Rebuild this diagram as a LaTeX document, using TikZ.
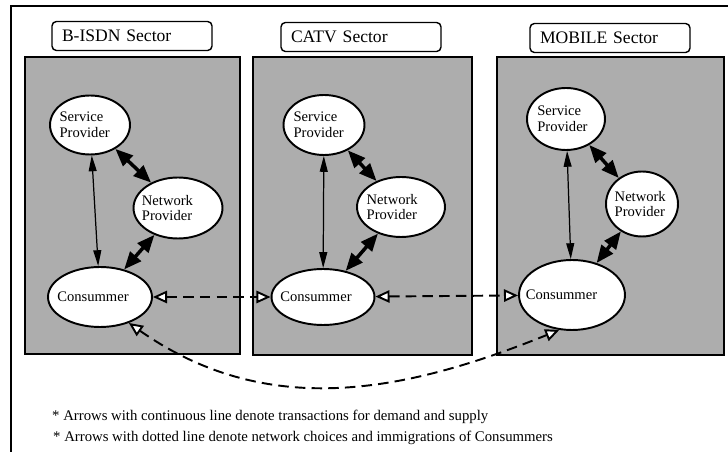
\documentclass[tikz,border=0pt]{standalone}
\usepackage{fontspec}
\setmainfont{Liberation Serif}
\usetikzlibrary{arrows.meta, shapes.geometric}
\definecolor{dotgrey}{gray}{0.68}

\begin{document}
\begin{tikzpicture}[
    x=0.02cm, y=-0.02cm,
    sector/.style={draw, fill=dotgrey, line width=1.1pt},
    tag/.style={draw, rounded corners=2.5pt, fill=white, line width=0.8pt, minimum height=0.58cm,
        text width=2.8cm, inner xsep=0.2cm, align=left, font=\fontsize{10}{12}\selectfont},
    party/.style={draw, ellipse, fill=white, line width=1.1pt, inner sep=0pt},
    txt/.style={font=\fontsize{8.3}{9}\selectfont, align=left},
    deal/.style={{Triangle[length=10pt,width=8pt]}-{Triangle[length=10pt,width=8pt]}, line width=2pt},
    link/.style={{Triangle[length=9pt,width=4.5pt]}-{Triangle[length=9pt,width=4.5pt]}, line width=0.7pt},
    move/.style={{Triangle[fill=white,length=8pt,width=7pt]}-{Triangle[fill=white,length=8pt,width=7pt]},
        dash pattern=on 6pt off 3.5pt, line width=1.1pt},
]
\useasboundingbox (0,0) rectangle (728,452);

% frame and the three sectors
\draw[line width=1pt] (11,452) -- (11,6) -- (728,6);
\draw[sector] (25,57) rectangle (240,354);
\draw[sector] (253,57) rectangle (472,355);
\draw[sector] (497,57) rectangle (724,355);

\node[tag] (tb) at (132,36) {B-ISDN Sector};
\node[tag] (tc) at (361,37) {CATV Sector};
\node[tag] (tm) at (610,38) {MOBILE Sector};

% B-ISDN
\node[party, minimum width=1.6cm, minimum height=1.18cm, label={[txt, xshift=-3pt]center:Service\\Provider}] (sp1) at (90,125) {};
\node[party, minimum width=1.78cm, minimum height=1.22cm, label={[txt, xshift=-6pt]center:Network\\Provider}] (np1) at (178,208) {};
\node[party, minimum width=2.08cm, minimum height=1.2cm, label={[txt, xshift=-4pt]center:Consummer}] (co1) at (100,297) {};

% CATV
\node[party, minimum width=1.62cm, minimum height=1.2cm, label={[txt, xshift=-3pt]center:Service\\Provider}] (sp2) at (324,125) {};
\node[party, minimum width=1.76cm, minimum height=1.2cm, label={[txt, xshift=-5pt]center:Network\\Provider}] (np2) at (401,207) {};
\node[party, minimum width=2.06cm, minimum height=1.12cm, label={[txt, xshift=-4pt]center:Consummer}] (co2) at (323,297) {};

% MOBILE
\node[party, minimum width=1.56cm, minimum height=1.24cm, label={[txt, xshift=-2pt]center:Service\\Provider}] (sp3) at (566,119) {};
\node[party, minimum width=1.44cm, minimum height=1.3cm, label={[txt, xshift=-1pt]center:Network\\Provider}] (np3) at (642,204) {};
\node[party, minimum width=2.12cm, minimum height=1.4cm, label={[txt, xshift=-6pt]center:Consummer}] (co3) at (572,295) {};

% demand and supply
\draw[link] (sp1) -- (co1);
\draw[deal] (sp1) -- (np1);
\draw[deal] (np1) -- (co1);
\draw[link] (sp2) -- (co2);
\draw[deal] (sp2) -- (np2);
\draw[deal] (np2) -- (co2);
\draw[link] (sp3) -- (co3);
\draw[deal] (sp3) -- (np3);
\draw[deal] (np3) -- (co3);

% network choices
\draw[move] (co1) -- (co2);
\draw[move] (co2) -- (co3);
\draw[move] (co1.-42) to[out=-35, in=-158] (co3.-110);

\node[anchor=west, font=\fontsize{8.4}{10}\selectfont] (n1) at (46,417) {* Arrows with continuous line denote transactions for demand and supply};
\node[anchor=west, font=\fontsize{8.4}{10}\selectfont] (n2) at (47,438) {* Arrows with dotted line denote network choices and immigrations of Consummers};
\end{tikzpicture}
\end{document}
